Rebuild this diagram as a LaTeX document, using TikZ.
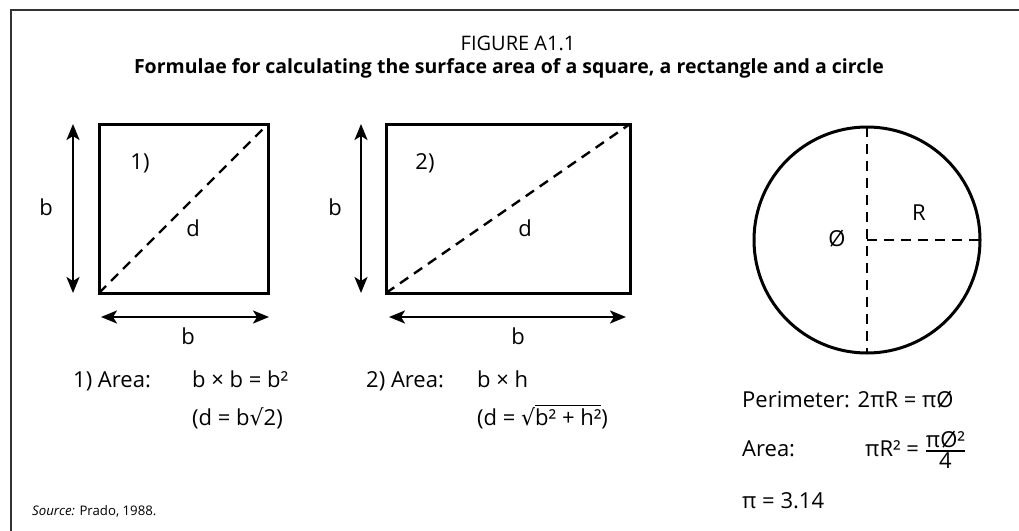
\documentclass[tikz,border=0pt]{standalone}
\usepackage{amsmath}
\usepackage{fontspec}
\setmainfont{Open Sans}
\newfontfamily\symfont{DejaVu Sans}
\usetikzlibrary{arrows.meta,positioning}

\tikzset{
  shape line/.style={line width=3pt},
  dim arrow/.style={line width=2.4pt,{Stealth[length=16pt,width=13pt,inset=4pt]}-{Stealth[length=16pt,width=13pt,inset=4pt]}},
  diag line/.style={line width=2.4pt,dash pattern=on 10pt off 7pt},
  lbl/.style={font=\fontsize{22}{26}\selectfont,inner sep=0pt},
  formula/.style={lbl,anchor=base west},
}

\begin{document}
\begin{tikzpicture}[x=1pt,y=-1pt]
  \useasboundingbox (0,0) rectangle (1019,530);

  % frame (cut off at right and bottom)
  \draw[line width=2pt,black!80] (11,545) -- (11,10) -- (1035,10);

  % heading
  \node[font=\fontsize{20}{24}\selectfont] (fignum) at (518,43) {FIGURE A1.1};
  \node[font=\bfseries\fontsize{19.5}{23}\selectfont] (title) at (509,68)
    {Formulae for calculating the surface area of a square, a rectangle and a circle};

  % 1) square
  \coordinate (sqSW) at (99,293);
  \coordinate (sqNE) at (268,124);
  \draw[shape line] (sqSW) rectangle (sqNE);
  \draw[diag line] (sqSW) -- (sqNE);
  \coordinate (sqVt) at (73,124);
  \coordinate (sqVb) at (73,293);
  \draw[dim arrow] (sqVt) -- (sqVb);
  \coordinate (sqHl) at (101,317);
  \coordinate (sqHr) at (269,317);
  \draw[dim arrow] (sqHl) -- (sqHr);
  \node[lbl] (sqside) at (46,207) {b};
  \node[lbl] (sqbase) at (188,336) {b};
  \node[lbl] (sqnum) at (140,163) {1)};
  \node[lbl] (sqdiag) at (193,228) {d};

  % 2) rectangle
  \coordinate (reSW) at (386,293);
  \coordinate (reNE) at (630,124);
  \draw[shape line] (reSW) rectangle (reNE);
  \draw[diag line] (reSW) -- (reNE);
  \coordinate (reVt) at (361,124);
  \coordinate (reVb) at (361,293);
  \draw[dim arrow] (reVt) -- (reVb);
  \coordinate (reHl) at (389,317);
  \coordinate (reHr) at (626,317);
  \draw[dim arrow] (reHl) -- (reHr);
  \node[lbl] (reside) at (335,207) {b};
  \node[lbl] (rebase) at (518,336) {b};
  \node[lbl] (renum) at (425,163) {2)};
  \node[lbl] (rediag) at (525,228) {d};

  % circle
  \node[draw,circle,shape line,outer sep=0pt,minimum size=226pt] (disc) at (867,240) {};
  \draw[diag line] (disc.north) -- (disc.south);
  \draw[diag line] (disc.center) -- (disc.east);
  \node[lbl] (crad) at (919,213) {R};
  \node[lbl] (cdiam) at (837,239) {Ø};

  % formulae
  \node[formula] (sqarea) at (73,387) {1) Area:};
  \node[formula] (sqres) at (192,387) {b × b = b²};
  \node[formula] (sqd) at (192,425) {(d = b{\symfont √}2)};
  \node[formula] (rearea) at (366,387) {2) Area:};
  \node[formula] (reres) at (477,387) {b × h};
  \node[formula] (red) at (477,425)
    {(d = {\symfont √}$\overline{\mbox{b² + h²}}$)};
  \node[formula] (cper) at (742,407) {Perimeter: 2πR = πØ};
  \node[formula] (carea) at (742,456) {Area:};
  \node[formula] (cres) at (865,456)
    {πR² = $\genfrac{}{}{1.4pt}{}{\mbox{πØ²}}{\mbox{4}}$};
  \node[formula] (cpi) at (742,508) {π = 3.14};

  \node[formula,font=\fontsize{13.2}{16}\selectfont] (src) at (32,515)
    {\textit{Source:} Prado, 1988.};
\end{tikzpicture}
\end{document}
